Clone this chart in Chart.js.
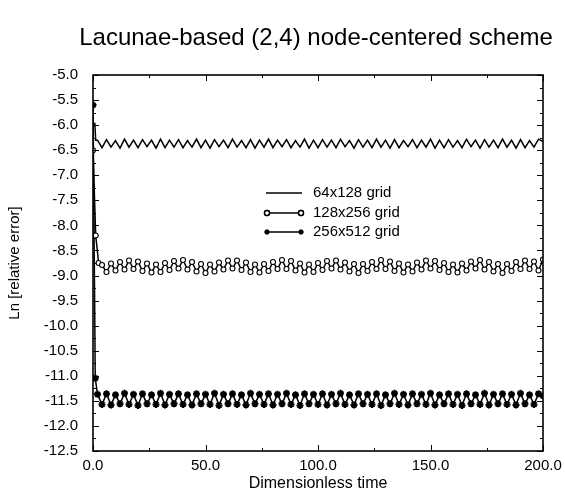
<!DOCTYPE html>
<html>
<head>
<meta charset="utf-8">
<script src="https://cdn.jsdelivr.net/npm/chart.js@4/dist/chart.umd.min.js"></script>
<style>
  html, body { margin: 0; padding: 0; background: #fff; }
  #wrap { width: 565px; height: 498px; }
</style>
</head>
<body>
<div id="wrap"><canvas id="chart"></canvas></div>
<script>
const titleText = "Lacunae-based (2,4) node-centered scheme";
const xTitle = "Dimensionless time";
const yTitle = "Ln [relative error]";
const seriesNames = ["64x128 grid", "128x256 grid", "256x512 grid"];

// start-up transient (time, value)
const head64t = [0.8, 1.2];
const head64v = [-5.95, -6.30];
const head128t = [0.0, 1.2, 2.5];
const head128v = [-6.50, -8.20, -8.75];
const head256t = [0.0, 1.0];
const head256v = [-5.60, -11.05];

// steady oscillation, one value every 2 time units
const start64 = 2, step64 = 2;
const vals64 = [
  -6.30,-6.45,-6.29,-6.44,-6.31,-6.46,-6.28,-6.44,-6.30,-6.45,
  -6.29,-6.43,-6.30,-6.46,-6.28,-6.45,-6.30,-6.44,-6.29,-6.45,
  -6.31,-6.44,-6.28,-6.45,-6.30,-6.46,-6.29,-6.43,-6.30,-6.45,
  -6.28,-6.44,-6.31,-6.45,-6.29,-6.46,-6.30,-6.44,-6.28,-6.45,
  -6.30,-6.43,-6.29,-6.45,-6.31,-6.44,-6.28,-6.46,-6.30,-6.45,
  -6.29,-6.44,-6.30,-6.45,-6.28,-6.43,-6.31,-6.46,-6.29,-6.44,
  -6.30,-6.45,-6.28,-6.44,-6.30,-6.46,-6.29,-6.45,-6.31,-6.43,
  -6.29,-6.45,-6.30,-6.44,-6.28,-6.46,-6.30,-6.45,-6.29,-6.44,
  -6.31,-6.45,-6.28,-6.43,-6.30,-6.46,-6.29,-6.44,-6.30,-6.45,
  -6.28,-6.44,-6.30,-6.46,-6.29,-6.45,-6.31,-6.44,-6.28,-6.33
];
const start128 = 4, step128 = 2;
const vals128 = [
  -8.79,-8.93,-8.76,-8.90,-8.73,-8.88,-8.70,-8.87,-8.72,-8.91,
  -8.76,-8.94,-8.78,-8.93,-8.75,-8.89,-8.71,-8.86,-8.69,-8.88,
  -8.73,-8.92,-8.77,-8.95,-8.78,-8.92,-8.74,-8.88,-8.70,-8.86,
  -8.70,-8.89,-8.74,-8.93,-8.78,-8.94,-8.77,-8.91,-8.73,-8.87,
  -8.69,-8.87,-8.71,-8.90,-8.76,-8.94,-8.78,-8.93,-8.75,-8.89,
  -8.71,-8.86,-8.70,-8.88,-8.74,-8.92,-8.77,-8.95,-8.77,-8.91,
  -8.73,-8.87,-8.69,-8.87,-8.72,-8.91,-8.76,-8.94,-8.78,-8.92,
  -8.74,-8.88,-8.70,-8.86,-8.71,-8.89,-8.75,-8.93,-8.78,-8.94,
  -8.76,-8.90,-8.72,-8.86,-8.69,-8.88,-8.73,-8.92,-8.77,-8.95,
  -8.77,-8.91,-8.73,-8.87,-8.70,-8.87,-8.72,-8.90,-8.68
];
const start256 = 2, step256 = 2;
const vals256 = [
  -11.37,-11.57,-11.36,-11.58,-11.38,-11.56,-11.35,-11.57,-11.37,-11.59,
  -11.36,-11.56,-11.38,-11.57,-11.35,-11.58,-11.37,-11.56,-11.36,-11.57,
  -11.38,-11.58,-11.36,-11.56,-11.37,-11.57,-11.35,-11.59,-11.37,-11.56,
  -11.36,-11.57,-11.38,-11.58,-11.35,-11.56,-11.37,-11.57,-11.36,-11.58,
  -11.37,-11.56,-11.35,-11.57,-11.38,-11.59,-11.36,-11.56,-11.37,-11.57,
  -11.36,-11.58,-11.37,-11.56,-11.35,-11.57,-11.38,-11.58,-11.36,-11.56,
  -11.37,-11.57,-11.36,-11.59,-11.38,-11.56,-11.35,-11.57,-11.37,-11.58,
  -11.36,-11.56,-11.37,-11.57,-11.35,-11.58,-11.38,-11.56,-11.36,-11.57,
  -11.37,-11.59,-11.36,-11.56,-11.38,-11.57,-11.35,-11.58,-11.37,-11.56,
  -11.36,-11.57,-11.37,-11.58,-11.35,-11.56,-11.38,-11.57,-11.36,-11.40
];

const xTicks = [0, 50, 100, 150, 200];
const xMinor = [25, 75, 125, 175];
const yMin = -12.5, yMax = -5.0, yStep = 0.5;

function buildPoints(ht, hv, start, step, vals) {
  const pts = ht.map((t, i) => ({ x: t, y: hv[i] }));
  vals.forEach((v, i) => pts.push({ x: start + i * step, y: v }));
  return pts;
}

const FONT = "'Liberation Sans', Arial, sans-serif";

const frame = {
  id: "frame",
  afterDraw(chart) {
    const { ctx, chartArea: a, scales } = chart;
    const xs = scales.x, ys = scales.y;
    ctx.save();
    ctx.strokeStyle = "#000";
    ctx.lineWidth = 1.6;
    ctx.strokeRect(a.left, a.top, a.right - a.left, a.bottom - a.top);
    ctx.lineWidth = 1;
    ctx.beginPath();
    const xt = xTicks.map(v => [v, 6]).concat(xMinor.map(v => [v, 3]));
    xt.forEach(([v, len]) => {
      const px = Math.round(xs.getPixelForValue(v)) + 0.5;
      ctx.moveTo(px, a.bottom); ctx.lineTo(px, a.bottom - len);
      ctx.moveTo(px, a.top); ctx.lineTo(px, a.top + len);
    });
    for (let v = yMin; v <= yMax + 1e-9; v += yStep / 2) {
      const major = Math.abs((v - yMin) / yStep - Math.round((v - yMin) / yStep)) < 1e-6;
      const len = major ? 6 : 3;
      const py = Math.round(ys.getPixelForValue(v)) + 0.5;
      ctx.moveTo(a.left, py); ctx.lineTo(a.left + len, py);
      ctx.moveTo(a.right, py); ctx.lineTo(a.right - len, py);
    }
    ctx.stroke();

    // titles
    ctx.fillStyle = "#000";
    ctx.textAlign = "center";
    ctx.textBaseline = "middle";
    ctx.font = "24px " + FONT;
    ctx.fillText(titleText, 316, 38);
    ctx.font = "16px " + FONT;
    ctx.fillText(xTitle, (a.left + a.right) / 2, 484);
    ctx.save();
    ctx.translate(15, (a.top + a.bottom) / 2);
    ctx.rotate(-Math.PI / 2);
    ctx.font = "15px " + FONT;
    ctx.fillText(yTitle, 0, 0);
    ctx.restore();

    // legend
    const rows = [193, 213, 232];
    chart.data.datasets.forEach((ds, i) => {
      const y = rows[i];
      ctx.strokeStyle = "#000";
      ctx.lineWidth = 1.4;
      ctx.beginPath();
      ctx.moveTo(266, y); ctx.lineTo(302, y);
      ctx.stroke();
      if (ds.pointRadius > 0) {
        [267, 301].forEach(px => {
          Chart.helpers.drawPoint(ctx, {
            pointStyle: ds.pointStyle, radius: 2.5, borderWidth: 1.2, rotation: 0
          }, px, y);
          ctx.fillStyle = ds.pointBackgroundColor;
          ctx.strokeStyle = "#000";
          ctx.fill();
          ctx.stroke();
        });
      }
      ctx.fillStyle = "#000";
      ctx.textAlign = "left";
      ctx.font = "15px " + FONT;
      ctx.fillText(ds.label, 313, y);
    });
    ctx.restore();
  }
};

new Chart(document.getElementById("chart"), {
  type: "line",
  data: {
    datasets: [
      {
        label: seriesNames[0],
        data: buildPoints(head64t, head64v, start64, step64, vals64),
        borderColor: "#000", borderWidth: 1.5, pointRadius: 0
      },
      {
        label: seriesNames[1],
        data: buildPoints(head128t, head128v, start128, step128, vals128),
        borderColor: "#000", borderWidth: 1.5,
        pointStyle: "circle", pointRadius: 2.5, pointBorderWidth: 1.1,
        pointBackgroundColor: "#fff", pointBorderColor: "#000"
      },
      {
        label: seriesNames[2],
        data: buildPoints(head256t, head256v, start256, step256, vals256),
        borderColor: "#000", borderWidth: 1.5,
        pointStyle: "star", pointRadius: 3.5, pointBorderWidth: 2,
        pointBackgroundColor: "#000", pointBorderColor: "#000"
      }
    ]
  },
  options: {
    responsive: true,
    maintainAspectRatio: false,
    animation: false,
    layout: { padding: { top: 75, right: 22, left: 0, bottom: 0 } },
    plugins: { legend: { display: false }, tooltip: { enabled: false } },
    elements: { line: { tension: 0 } },
    scales: {
      x: {
        type: "linear", min: 0, max: 200,
        grid: { display: false }, border: { display: false },
        afterFit(s) { s.height = 47; },
        afterBuildTicks(s) { s.ticks = xTicks.map(v => ({ value: v })); },
        ticks: {
          padding: -2, color: "#000", maxRotation: 0,
          font: { family: FONT, size: 15 },
          callback: v => v.toFixed(1)
        }
      },
      y: {
        type: "linear", min: yMin, max: yMax,
        grid: { display: false }, border: { display: false },
        afterFit(s) { s.width = 93; },
        ticks: {
          stepSize: yStep, padding: 7, color: "#000",
          font: { family: FONT, size: 15 },
          callback: v => v.toFixed(1)
        }
      }
    }
  },
  plugins: [frame]
});
</script>
</body>
</html>
